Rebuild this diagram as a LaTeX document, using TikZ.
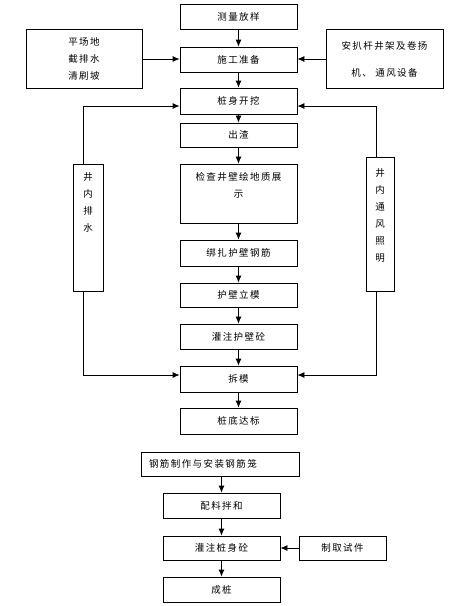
\documentclass[tikz,border=0pt]{standalone}
\usepackage{fontspec}
\newfontfamily\cjk[LetterSpace=15]{Noto Sans CJK SC}
\usetikzlibrary{shapes,arrows,arrows.meta}
\tikzstyle{block} = [rectangle, draw, line width=0.8pt, inner sep=0pt,
    font=\cjk\fontsize{9.5}{17}\selectfont, align=center,
    minimum width=117, minimum height=25]
\tikzstyle{column} = [block, minimum width=30, minimum height=127]
\tikzstyle{line} = [draw, line width=0.8pt, -{Latex[length=7pt, width=6pt]}]

\begin{document}
\begin{tikzpicture}[x=1pt, y=-1pt]
        \useasboundingbox (0,0) rectangle (467,606);
        % Place nodes
        \node (survey) at (238.5,16.5) [block] {测量放样};
        \node (prep) at (238.5,59.5) [block] {施工准备};
        \path [line] (survey) -- (prep);
        \node (site) at (84,59) [block, minimum width=116, minimum height=59] {平场地\\截排水\\清刷坡};
        \path [line] (site.east) -- (site.east -| prep.west);
        \node (equip) at (384.5,59) [block, minimum height=59] {安扒杆井架及卷扬\\[10pt]机、 通风设备};
        \path [line] (equip.west) -- (equip.west -| prep.east);
        \node (dig) at (238.5,101) [block, minimum height=26] {桩身开挖};
        \path [line] (prep) -- (dig);
        \node (slag) at (238.5,135) [block, minimum height=24] {出渣};
        \path [line] (dig) -- (slag);
        \node (check) at (238.5,193.5) [block, minimum height=59] {检查井壁绘地质展\\示\\~};
        \path [line] (slag) -- (check);
        \node (bind) at (238.5,253) [block, minimum height=26] {绑扎护壁钢筋};
        \path [line] (check) -- (bind);
        \node (form) at (238.5,295) [block, minimum height=24] {护壁立模};
        \path [line] (bind) -- (form);
        \node (wallpour) at (238.5,336.5) [block] {灌注护壁砼};
        \path [line] (form) -- (wallpour);
        \node (strip) at (238.5,379) [block, minimum height=26] {拆模};
        \path [line] (wallpour) -- (strip);
        \node (bottom) at (238.5,421) [block, minimum height=26] {桩底达标};
        \path [line] (strip) -- (bottom);

        %Drainage and ventilation loops
        \node (drain) at (88,227.5) [column] {井\\内\\排\\水\\~\\~\\~};
        \node (vent) at (380,224) [column, minimum width=28, minimum height=134] {井\\内\\通\\风\\照\\明\\~};
        \coordinate (ltop) at (83,106);
        \coordinate (lbot) at (83,375);
        \coordinate (rtop) at (376,106);
        \coordinate (rbot) at (376,375);
        \path [line] (drain.north -| ltop) -- (ltop) -- (ltop -| dig.west);
        \path [line] (drain.south -| lbot) -- (lbot) -- (lbot -| strip.west);
        \path [line] (vent.north -| rtop) -- (rtop) -- (rtop -| dig.east);
        \path [line] (vent.south -| rbot) -- (rbot) -- (rbot -| strip.east);

        %Pile casting
        \node (cage) at (220,464) [block, minimum width=158, minimum height=24, text width=142, align=left] {钢筋制作与安装钢筋笼};
        \node (mix) at (221.5,505.5) [block] {配料拌和};
        \path [line] (cage.south -| mix) -- (mix);
        \node (pilepour) at (221.5,548) [block, minimum height=24] {灌注桩身砼};
        \path [line] (mix) -- (pilepour);
        \node (specimen) at (342.5,548) [block, minimum width=87, minimum height=24] {制取试件};
        \path [line] (specimen) -- (pilepour);
        \node (pile) at (221.5,589.5) [block] {成桩};
        \path [line] (pilepour) -- (pile);
    \end{tikzpicture}
\end{document}
